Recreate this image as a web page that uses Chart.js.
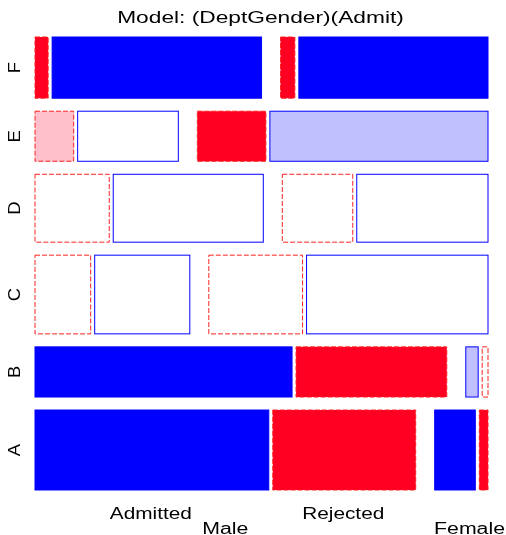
<!DOCTYPE html>
<html>
<head>
<meta charset="utf-8">
<script src="https://cdn.jsdelivr.net/npm/chart.js@4.4.1/dist/chart.umd.min.js"></script>
<style>
  html, body { margin: 0; padding: 0; background: #ffffff; }
  #wrap { width: 506px; height: 535px; }
</style>
</head>
<body>
<div id="wrap"><canvas id="c" width="506" height="535"></canvas></div>
<script>
// ---- data (UCBAdmissions, read from the mosaic) ----
const chartTitle = 'Model: (DeptGender)(Admit)';
const departments = ['A', 'B', 'C', 'D', 'E', 'F'];
const genders = ['Male', 'Female'];
const admitLevels = ['Admitted', 'Rejected'];
const maleAdmitted   = [512, 353, 120, 138,  53,  22];
const maleRejected   = [313, 207, 205, 279, 138, 351];
const femaleAdmitted = [ 89,  17, 202, 131,  94,  24];
const femaleRejected = [ 19,   8, 391, 244, 299, 317];
const shadeCuts = [2, 4];

// ---- layout / style constants ----
const rowGap = 13 / 453, genderGap = 19 / 453, admitGap = 4 / 453;
const COLORS = {
  posStrong: '#0000FF', posMid: '#C0C0FF', neutral: '#FFFFFF',
  negMid: '#FFC0CB', negStrong: '#FF0022',
  posBorder: '#0000FF', negBorder: '#FF2020'
};
const FONT = '"Liberation Sans", Arial, Helvetica, sans-serif';

// counts[dept][gender][admit]
const counts = departments.map((d, i) => [
  [maleAdmitted[i], maleRejected[i]],
  [femaleAdmitted[i], femaleRejected[i]]
]);
const N = counts.flat(2).reduce((a, b) => a + b, 0);
const admitTotals = [0, 1].map(k => counts.reduce((s, r) => s + r[0][k] + r[1][k], 0));

function buildCells() {
  const cells = [];
  const availH = 1 - rowGap * (departments.length - 1);
  let y = 0;
  counts.forEach((row, i) => {
    const rowTot = row.flat().reduce((a, b) => a + b, 0);
    const h = availH * rowTot / N;
    const availW = 1 - genderGap - 2 * admitGap;
    let x = 0;
    row.forEach((g, gi) => {
      const gTot = g[0] + g[1];
      g.forEach((v, k) => {
        const w = availW * v / rowTot;
        const exp = gTot * admitTotals[k] / N;
        const res = (v - exp) / Math.sqrt(exp);
        cells.push({ dept: i, gender: gi, admit: k, x0: x, x1: x + w, y0: y, y1: y + h, res });
        x += w;
        if (k === 0) x += admitGap;
      });
      x += genderGap;
    });
    y += h + rowGap;
  });
  return cells;
}
const cells = buildCells();

function fillFor(r) {
  if (r >= shadeCuts[1]) return COLORS.posStrong;
  if (r >= shadeCuts[0]) return COLORS.posMid;
  if (r <= -shadeCuts[1]) return COLORS.negStrong;
  if (r <= -shadeCuts[0]) return COLORS.negMid;
  return COLORS.neutral;
}

function stretchedText(ctx, text, x, y, sx, align, rot) {
  ctx.save();
  ctx.translate(x, y);
  if (rot) ctx.rotate(rot);
  ctx.scale(sx, 1);
  ctx.textAlign = align;
  ctx.textBaseline = 'alphabetic';
  ctx.fillText(text, 0, 0);
  ctx.restore();
}

const mosaicPlugin = {
  id: 'mosaic',
  afterDatasetsDraw(chart) {
    const { ctx, scales: { x: xs, y: ys } } = chart;
    ctx.save();
    cells.forEach(c => {
      const px0 = xs.getPixelForValue(c.x0), px1 = xs.getPixelForValue(c.x1);
      const py0 = ys.getPixelForValue(c.y1), py1 = ys.getPixelForValue(c.y0);
      ctx.fillStyle = fillFor(c.res);
      ctx.fillRect(px0, py0, px1 - px0, py1 - py0);
      ctx.lineWidth = 1;
      if (c.res >= 0) {
        ctx.setLineDash([]);
        ctx.strokeStyle = COLORS.posBorder;
      } else {
        ctx.setLineDash([5, 2]);
        ctx.strokeStyle = COLORS.negBorder;
      }
      ctx.strokeRect(px0, py0, px1 - px0, py1 - py0);
    });
    ctx.setLineDash([]);

    // texts
    ctx.fillStyle = '#000000';
    const ca = chart.chartArea;
    ctx.font = '16px ' + FONT;
    stretchedText(ctx, chartTitle, (ca.left + ca.right) / 2 - 1, 23, 1.42, 'center');

    // department labels (rotated), at row centres
    departments.forEach((d, i) => {
      const c = cells.find(e => e.dept === i);
      const yc = ys.getPixelForValue((c.y0 + c.y1) / 2);
      stretchedText(ctx, d, 20, yc, 1.15, 'center', -Math.PI / 2);
    });

    // admit labels, at bottom row cells (Male)
    admitLevels.forEach((lab, k) => {
      const c = cells.find(e => e.dept === 0 && e.gender === 0 && e.admit === k);
      const xc = xs.getPixelForValue((c.x0 + c.x1) / 2);
      stretchedText(ctx, lab, xc - 1, 519, 1.3, 'center');
    });
    // gender labels (last one pushed to the right edge as in the reference)
    genders.forEach((lab, gi) => {
      const a = cells.find(e => e.dept === 0 && e.gender === gi && e.admit === 0);
      const b = cells.find(e => e.dept === 0 && e.gender === gi && e.admit === 1);
      let xc = xs.getPixelForValue((a.x0 + b.x1) / 2);
      const w = ctx.measureText(lab).width * 1.33;
      if (gi === genders.length - 1) xc = chart.width - 1 - w / 2;
      stretchedText(ctx, lab, xc, 534, 1.33, 'center');
    });
    ctx.restore();
  }
};

new Chart(document.getElementById('c'), {
  type: 'scatter',
  data: { datasets: [] },
  options: {
    responsive: false,
    animation: false,
    layout: { padding: { left: 35, right: 18, top: 37, bottom: 45 } },
    scales: {
      x: { type: 'linear', min: 0, max: 1, display: false },
      y: { type: 'linear', min: 0, max: 1, display: false }
    },
    plugins: { legend: { display: false }, title: { display: false }, tooltip: { enabled: false } }
  },
  plugins: [mosaicPlugin]
});
</script>
</body>
</html>
